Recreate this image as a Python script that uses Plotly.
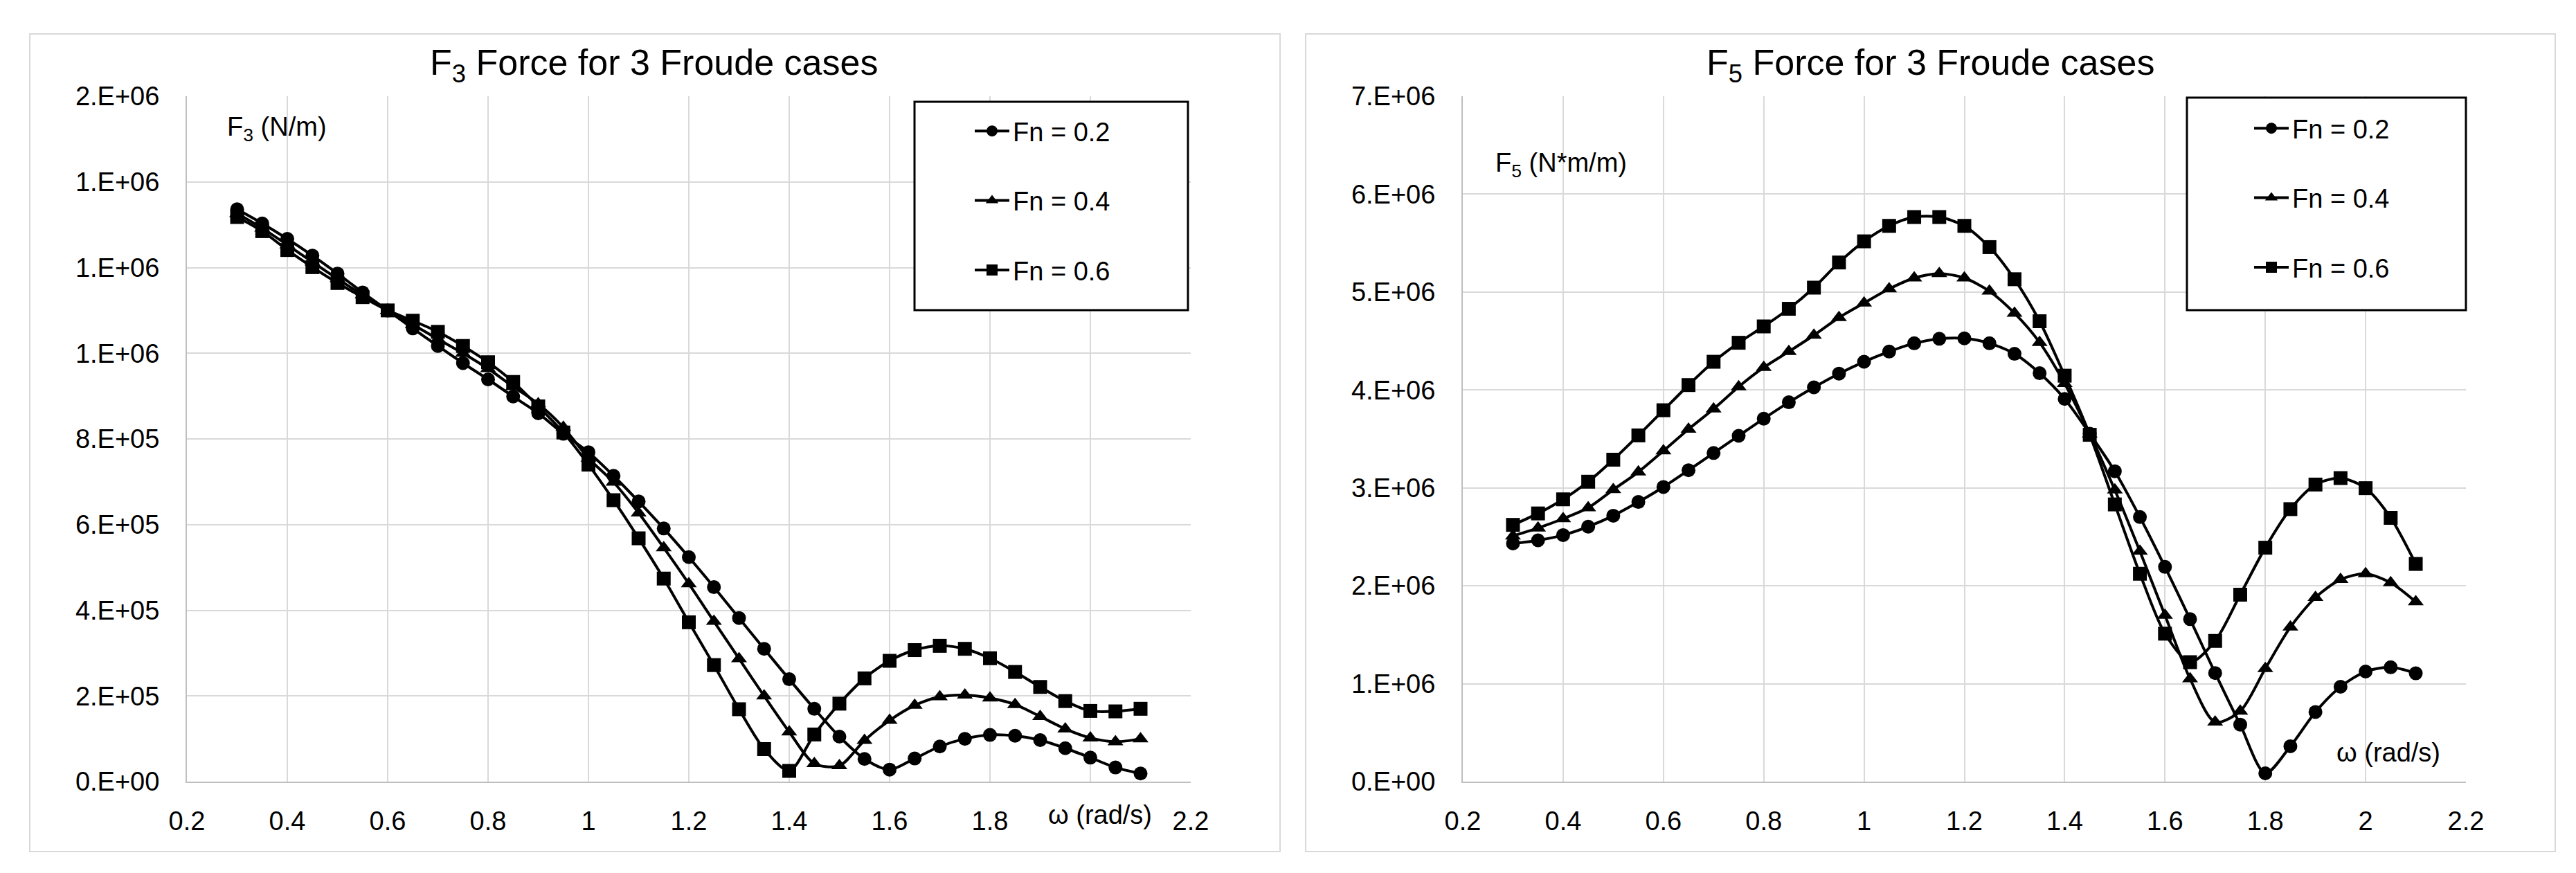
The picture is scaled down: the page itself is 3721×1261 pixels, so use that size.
import plotly.graph_objects as go

#######################################################
# data (omega in rad/s)
omega = [0.30, 0.35, 0.40, 0.45, 0.50, 0.55, 0.60, 0.65, 0.70, 0.75,
         0.80, 0.85, 0.90, 0.95, 1.00, 1.05, 1.10, 1.15, 1.20, 1.25,
         1.30, 1.35, 1.40, 1.45, 1.50, 1.55, 1.60, 1.65, 1.70, 1.75,
         1.80, 1.85, 1.90, 1.95, 2.00, 2.05, 2.10]

# F3 (N/m), in 1e6
f3_fn02 = [1.336, 1.303, 1.267, 1.228, 1.186, 1.142, 1.100, 1.058, 1.017, 0.977,
           0.939, 0.899, 0.860, 0.812, 0.769, 0.714, 0.654, 0.591, 0.524, 0.454,
           0.382, 0.310, 0.239, 0.170, 0.105, 0.053, 0.028, 0.054, 0.082, 0.100,
           0.109, 0.107, 0.097, 0.078, 0.056, 0.033, 0.019]
f3_fn04 = [1.326, 1.292, 1.253, 1.213, 1.174, 1.136, 1.100, 1.067, 1.033, 1.000,
           0.964, 0.922, 0.882, 0.827, 0.755, 0.699, 0.627, 0.546, 0.462, 0.374,
           0.287, 0.200, 0.116, 0.042, 0.037, 0.096, 0.143, 0.178, 0.198, 0.202,
           0.195, 0.180, 0.152, 0.123, 0.102, 0.093, 0.100]
f3_fn06 = [1.318, 1.285, 1.241, 1.201, 1.164, 1.131, 1.100, 1.076, 1.050, 1.017,
           0.979, 0.933, 0.876, 0.815, 0.740, 0.657, 0.568, 0.474, 0.372, 0.272,
           0.169, 0.076, 0.025, 0.110, 0.182, 0.241, 0.282, 0.307, 0.317, 0.310,
           0.288, 0.256, 0.221, 0.188, 0.165, 0.164, 0.170]

# F5 (N*m/m), in 1e6
f5_fn02 = [2.432, 2.464, 2.518, 2.604, 2.716, 2.856, 3.009, 3.180, 3.356, 3.532,
           3.707, 3.874, 4.027, 4.167, 4.288, 4.392, 4.477, 4.523, 4.527, 4.477,
           4.369, 4.171, 3.908, 3.553, 3.170, 2.702, 2.193, 1.659, 1.109, 0.582,
           0.085, 0.361, 0.711, 0.969, 1.124, 1.168, 1.106]
f5_fn04 = [2.509, 2.590, 2.685, 2.797, 2.982, 3.162, 3.378, 3.599, 3.806, 4.032,
           4.230, 4.392, 4.559, 4.739, 4.887, 5.032, 5.144, 5.189, 5.144, 5.009,
           4.784, 4.485, 4.065, 3.550, 2.978, 2.352, 1.699, 1.050, 0.608, 0.719,
           1.154, 1.578, 1.880, 2.064, 2.123, 2.031, 1.836]
f5_fn06 = [2.622, 2.739, 2.883, 3.063, 3.288, 3.536, 3.793, 4.050, 4.288, 4.482,
           4.649, 4.829, 5.045, 5.302, 5.518, 5.676, 5.766, 5.766, 5.676, 5.459,
           5.131, 4.702, 4.146, 3.542, 2.831, 2.123, 1.511, 1.220, 1.437, 1.909,
           2.389, 2.783, 3.034, 3.100, 2.997, 2.694, 2.223]

series_names = ["Fn = 0.2", "Fn = 0.4", "Fn = 0.6"]
symbols = ["circle", "triangle-up", "square"]

x_ticks = [0.2, 0.4, 0.6, 0.8, 1.0, 1.2, 1.4, 1.6, 1.8, 2.0, 2.2]
x_ticktext_left = ["0.2", "0.4", "0.6", "0.8", "1", "1.2", "1.4", "1.6", "1.8", "", "2.2"]
x_ticktext_right = ["0.2", "0.4", "0.6", "0.8", "1", "1.2", "1.4", "1.6", "1.8", "2", "2.2"]
y3_ticks = [0, 2e5, 4e5, 6e5, 8e5, 1.0e6, 1.2e6, 1.4e6, 1.6e6]
y3_ticktext = ["0.E+00", "2.E+05", "4.E+05", "6.E+05", "8.E+05", "1.E+06", "1.E+06", "1.E+06", "2.E+06"]
y5_ticks = [0, 1e6, 2e6, 3e6, 4e6, 5e6, 6e6, 7e6]
y5_ticktext = ["0.E+00", "1.E+06", "2.E+06", "3.E+06", "4.E+06", "5.E+06", "6.E+06", "7.E+06"]
#######################################################

W, H = 3721, 1261
FONT = "Liberation Sans, Arial, sans-serif"

def px(x):
    return x / W

def py(y):
    return 1 - y / H

fig = go.Figure()

left = [f3_fn02, f3_fn04, f3_fn06]
right = [f5_fn02, f5_fn04, f5_fn06]

for i in range(3):
    fig.add_trace(go.Scatter(
        x=omega, y=[v * 1e6 for v in left[i]], name=series_names[i],
        mode="lines+markers", line=dict(color="black", width=4, shape="spline", smoothing=0.8),
        marker=dict(symbol=symbols[i], size=20, color="black"),
        xaxis="x", yaxis="y", legend="legend", legendgroup="L%d" % i))
for i in range(3):
    fig.add_trace(go.Scatter(
        x=omega, y=[v * 1e6 for v in right[i]], name=series_names[i],
        mode="lines+markers", line=dict(color="black", width=4, shape="spline", smoothing=0.8),
        marker=dict(symbol=symbols[i], size=20, color="black"),
        xaxis="x2", yaxis="y2", legend="legend2", legendgroup="R%d" % i))

axis_common = dict(showgrid=True, gridcolor="#d9d9d9", gridwidth=2, zeroline=False,
                   showline=True, linecolor="#bfbfbf", linewidth=2, ticks="",
                   automargin=False,
                   tickfont=dict(family=FONT, size=38, color="black"), fixedrange=True)

ydom = [py(1121), py(131)]

fig.update_layout(
    width=W, height=H, margin=dict(l=0, r=0, t=0, b=0, autoexpand=False),
    paper_bgcolor="white", plot_bgcolor="white",
    font=dict(family=FONT, size=38, color="black"),
    xaxis=dict(domain=[px(262), px(1712)], range=[0.2, 2.2], tickvals=x_ticks,
               ticktext=x_ticktext_left, anchor="y", ticklabelstandoff=22, **axis_common),
    yaxis=dict(domain=ydom, range=[0, 1.6e6], tickvals=y3_ticks, ticktext=y3_ticktext,
               anchor="x", ticklabelstandoff=30, **axis_common),
    xaxis2=dict(domain=[px(2105), px(3554)], range=[0.2, 2.2], tickvals=x_ticks,
                ticktext=x_ticktext_right, anchor="y2", ticklabelstandoff=22, **axis_common),
    yaxis2=dict(domain=ydom, range=[0, 7e6], tickvals=y5_ticks, ticktext=y5_ticktext,
                anchor="x2", ticklabelstandoff=30, **axis_common),
    legend=dict(x=px(1395), y=py(150), xanchor="left", yanchor="top",
                bgcolor="rgba(0,0,0,0)", borderwidth=0, tracegroupgap=48,
                itemwidth=50, font=dict(family=FONT, size=38, color="black")),
    legend2=dict(x=px(3243), y=py(146), xanchor="left", yanchor="top",
                 bgcolor="rgba(0,0,0,0)", borderwidth=0, tracegroupgap=48,
                 itemwidth=50, font=dict(family=FONT, size=38, color="black")),
    showlegend=True,
)

# chart frames and legend boxes
shapes = [
    dict(type="rect", xref="paper", yref="paper", x0=px(35), x1=px(1841), y0=py(1222), y1=py(41),
         line=dict(color="#d9d9d9", width=2), layer="below"),
    dict(type="rect", xref="paper", yref="paper", x0=px(1878), x1=px(3683), y0=py(1222), y1=py(41),
         line=dict(color="#d9d9d9", width=2), layer="below"),
    dict(type="rect", xref="paper", yref="paper", x0=px(1313), x1=px(1708), y0=py(440), y1=py(139),
         line=dict(color="black", width=3), fillcolor="white", layer="above"),
    dict(type="rect", xref="paper", yref="paper", x0=px(3151), x1=px(3554), y0=py(440), y1=py(133),
         line=dict(color="black", width=3), fillcolor="white", layer="above"),
]
fig.update_layout(shapes=shapes)

annotations = [
    dict(text="F<sub>3</sub> Force for 3 Froude cases", x=px(936), y=py(86), size=52),
    dict(text="F<sub>5</sub> Force for 3 Froude cases", x=px(2780), y=py(86), size=52),
    dict(text="F<sub>3</sub> (N/m)", x=px(318), y=py(178), xanchor="left"),
    dict(text="F<sub>5</sub> (N*m/m)", x=px(2150), y=py(230), xanchor="left"),
    dict(text="ω (rad/s)", x=px(1581), y=py(1169)),
    dict(text="ω (rad/s)", x=px(3442), y=py(1079)),
]
for a in annotations:
    fig.add_annotation(xref="paper", yref="paper", showarrow=False,
                       yanchor="middle", xanchor=a.get("xanchor", "center"),
                       x=a["x"], y=a["y"], text=a["text"],
                       font=dict(family=FONT, color="black", size=a.get("size", 38)))

fig.write_html("out.html")
